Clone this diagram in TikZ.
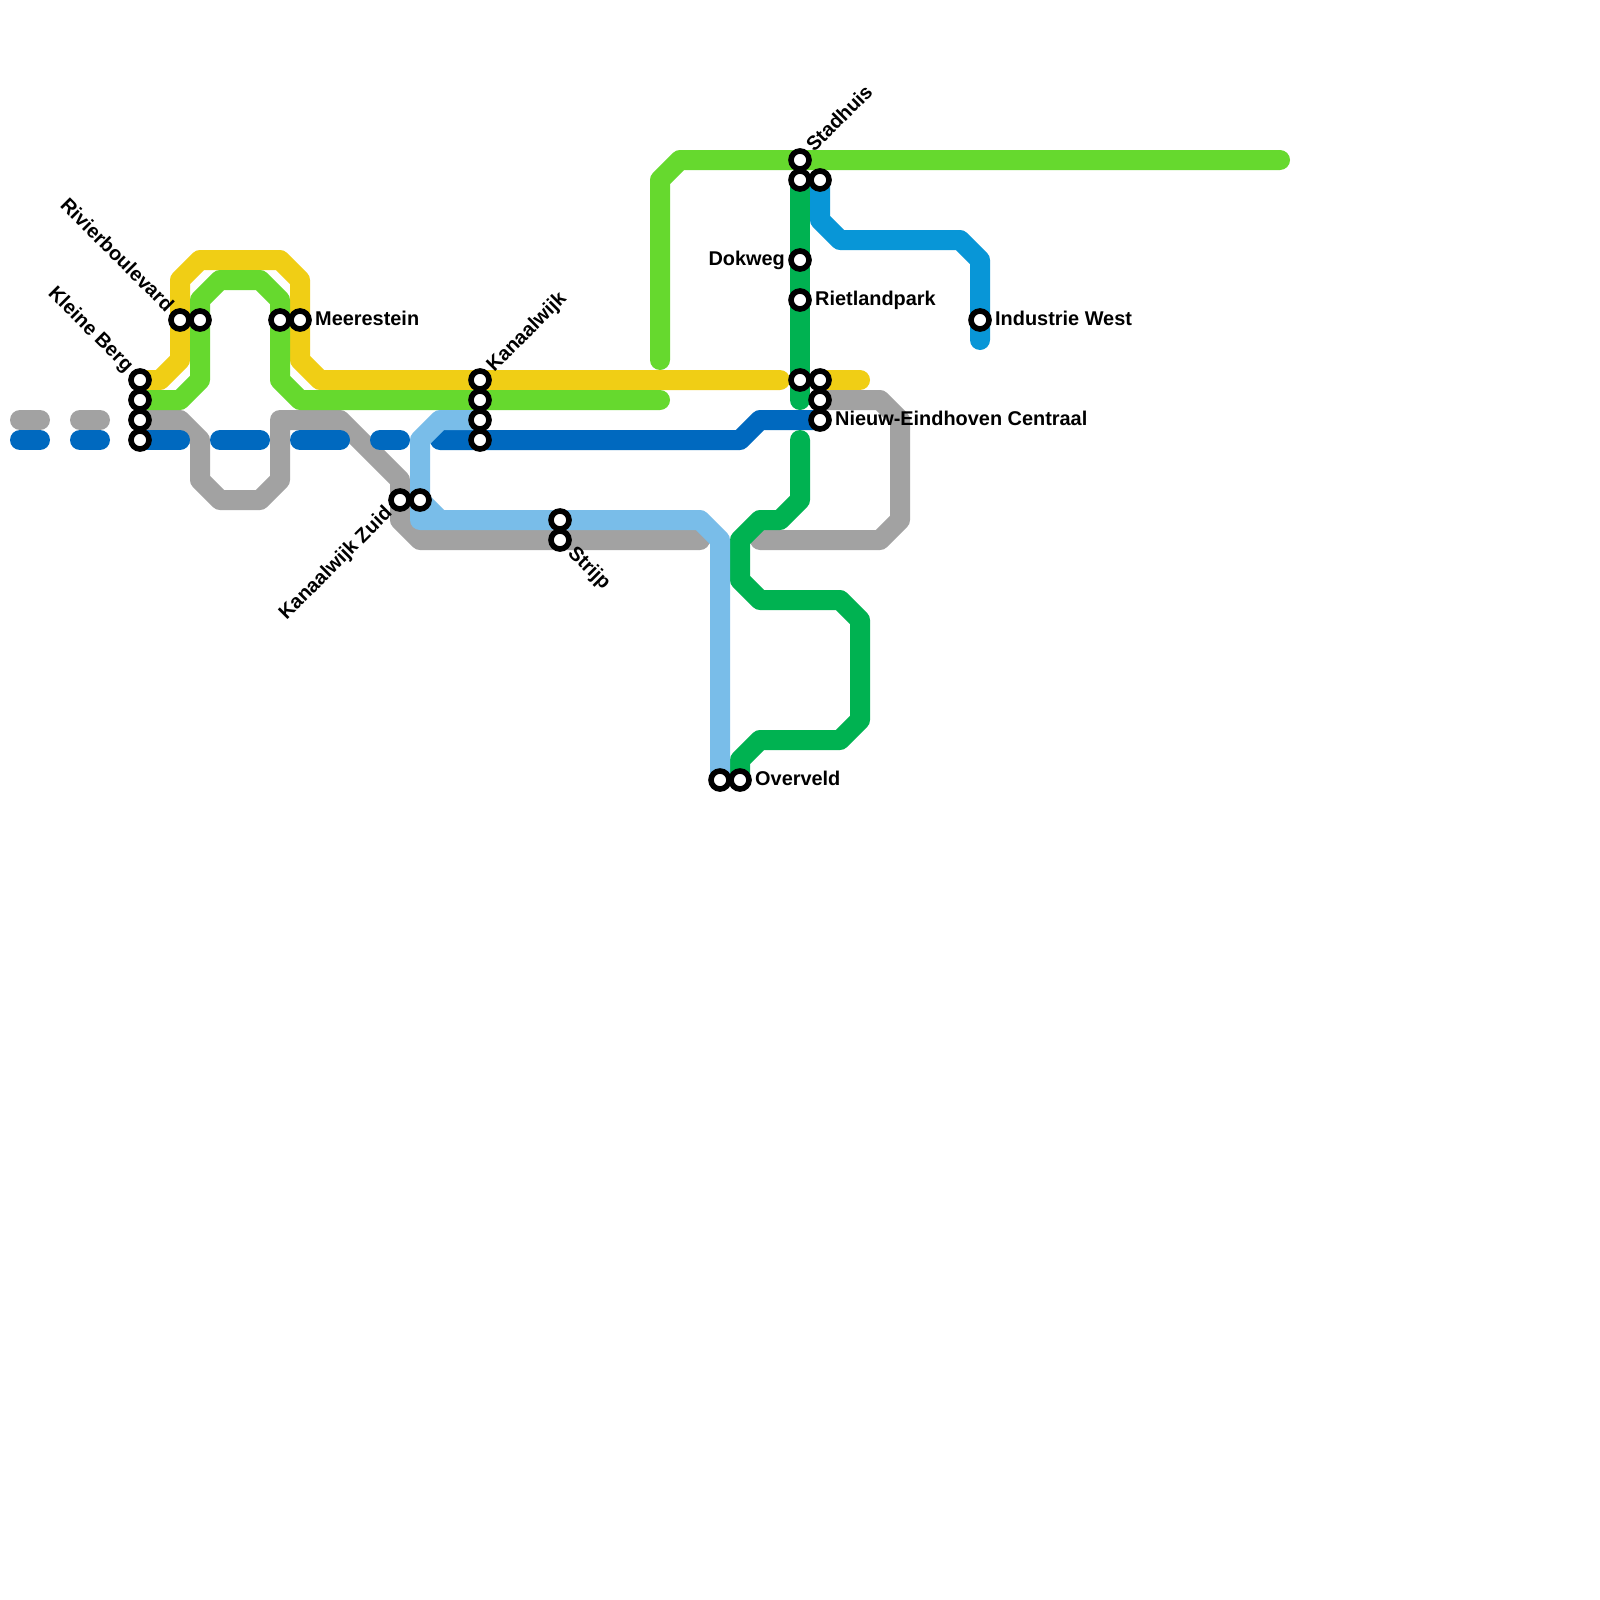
\documentclass[tikz,border=0pt]{standalone}
\usepackage{fontspec}
\setmainfont{Liberation Sans}
\pgfdeclarelayer{lines}
\pgfsetlayers{lines,main}
\definecolor{cgrey}{HTML}{A2A2A2}
\definecolor{cblue}{HTML}{0069BF}
\definecolor{clight}{HTML}{79BDE9}
\definecolor{cyell}{HTML}{F0CE15}
\definecolor{cgreen}{HTML}{66D92E}
\definecolor{cdark}{HTML}{00B251}
\definecolor{cteal}{HTML}{0896D7}
\tikzset{
  metro/.style={line width=20pt,line cap=round,line join=round},
  station/.style={circle,draw=black,fill=white,line width=5.6pt,minimum size=18pt,inner sep=0pt,outer sep=0pt},
  lbl/.style={font=\fontsize{19.9}{24}\selectfont\bfseries,inner sep=0pt,text=black},
  lblR/.style={lbl,anchor=base west},
  lblL/.style={lbl,anchor=base east},
}
\begin{document}
\begin{tikzpicture}[x=1pt,y=-1pt]
\useasboundingbox (0,0) rectangle (1600,1600);
% stations
\foreach \n/\x/\y in {kb1/140/380,kb2/140/400,kb3/140/420,kb4/140/440,
  rv1/180/320,rv2/200/320,me1/280/320,me2/300/320,
  kz1/400/500,kz2/420/500,ka1/480/380,ka2/480/400,ka3/480/420,ka4/480/440,
  st1/560/520,st2/560/540,ov1/720/780,ov2/740/780,
  sh1/800/160,sh2/800/180,sh3/820/180,dw/800/260,rp/800/300,
  ne1/800/380,ne2/820/380,ne3/820/400,ne4/820/420,iw/980/320}
  {\node[station] (\n) at (\x,\y) {};}
% line ends
\foreach \n/\x/\y in {ga/20/420,gb/40/420,gc/80/420,gd/100/420,
  ba/20/440,bb/40/440,bc/80/440,bd/100/440}
  {\coordinate (\n) at (\x,\y);}
\begin{pgfonlayer}{lines}
\fill[white] (0,0) rectangle (1600,1600);
% grey
\draw[metro,cgrey] (ga) -- (gb);
\draw[metro,cgrey] (gc) -- (gd);
\draw[metro,cgrey] (kb3.center) -- (180,420) -- (200,440) -- (200,480) -- (220,500) -- (260,500) -- (280,480) -- (280,420) -- (340,420) -- (400,480) -- (kz1.center) -- (400,520) -- (420,540) -- (st2.center) -- (700,540);
\draw[metro,cgrey] (ne3.center) -- (880,400) -- (900,420) -- (900,520) -- (880,540) -- (760,540);
% dark blue
\draw[metro,cblue] (ba) -- (bb);
\draw[metro,cblue] (bc) -- (bd);
\draw[metro,cblue] (kb4.center) -- (180,440);
\draw[metro,cblue] (220,440) -- (260,440);
\draw[metro,cblue] (300,440) -- (340,440);
\draw[metro,cblue] (380,440) -- (400,440);
\draw[metro,cblue] (440,440) -- (ka4.center) -- (740,440) -- (760,420) -- (ne4.center);
% yellow
\draw[metro,cyell] (kb1.center) -- (160,380) -- (180,360) -- (rv1.center) -- (180,280) -- (200,260) -- (280,260) -- (300,280) -- (me2.center) -- (300,360) -- (320,380) -- (ka1.center) -- (780,380);
\draw[metro,cyell] (ne2.center) -- (860,380);
% light green
\draw[metro,cgreen] (kb2.center) -- (180,400) -- (200,380) -- (rv2.center) -- (200,300) -- (220,280) -- (260,280) -- (280,300) -- (me1.center) -- (280,380) -- (300,400) -- (ka2.center) -- (660,400);
\draw[metro,cgreen] (660,360) -- (660,180) -- (680,160) -- (sh1.center) -- (1280,160);
% teal
\draw[metro,cteal] (sh3.center) -- (820,220) -- (840,240) -- (960,240) -- (980,260) -- (iw.center) -- (980,340);
% dark green
\draw[metro,cdark] (sh2.center) -- (dw.center) -- (rp.center) -- (ne1.center) -- (800,400);
\draw[metro,cdark] (800,440) -- (800,500) -- (780,520) -- (760,520) -- (740,540) -- (740,580) -- (760,600) -- (840,600) -- (860,620) -- (860,720) -- (840,740) -- (760,740) -- (740,760) -- (ov2.center);
% light blue
\draw[metro,clight] (ka3.center) -- (440,420) -- (420,440) -- (kz2.center) -- (420,520) -- (st1.center) -- (700,520) -- (720,540) -- (ov1.center);
\draw[metro,clight] (kz2.center) -- (440,520);
\end{pgfonlayer}
% labels
\node[lblR] (tme) at (315,325) {Meerestein};
\node[lblR] (trp) at (815,305) {Rietlandpark};
\node[lblR] (tiw) at (995,325) {Industrie West};
\node[lblR] (tne) at (835,425) {Nieuw-Eindhoven Centraal};
\node[lblR] (tov) at (755,785) {Overveld};
\node[lblL] (tdw) at (785,265) {Dokweg};
\node[lblR,rotate=45] (tsh) at (814.2,153) {Stadhuis};
\node[lblR,rotate=45] (tka) at (494.2,373) {Kanaalwijk};
\node[lblL,rotate=45] (tkz) at (393,514.2) {Kanaalwijk Zuid};
\node[lblR,rotate=-45] (tst) at (567,554.2) {Strijp};
\node[lblL,rotate=-45] (tkb) at (125.8,373) {Kleine Berg};
\node[lblL,rotate=-45] (trv) at (165.8,313) {Rivierboulevard};
\end{tikzpicture}
\end{document}
